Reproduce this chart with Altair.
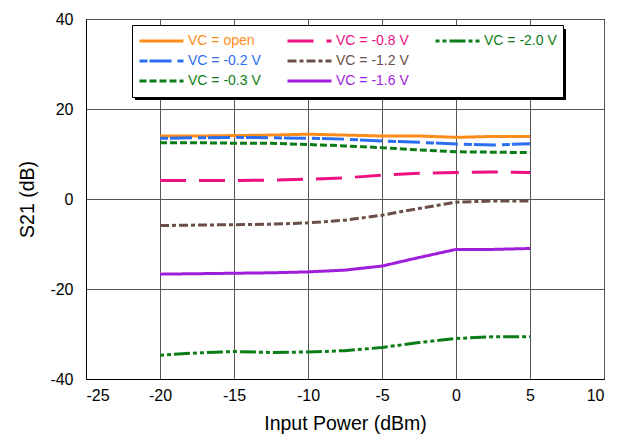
import altair as alt
import pandas as pd

# Input power points (dBm)
pin = [-20, -17.5, -15, -12.5, -10, -7.5, -5, -2.5, 0, 2.5, 5]

s21_open = [14.0, 14.0, 14.1, 14.2, 14.4, 14.2, 14.0, 14.0, 13.7, 13.9, 13.9]
s21_m02 = [13.5, 13.6, 13.7, 13.6, 13.5, 13.3, 12.9, 12.6, 12.2, 12.0, 12.3]
s21_m03 = [12.5, 12.5, 12.4, 12.4, 12.1, 11.8, 11.4, 10.9, 10.5, 10.4, 10.3]
s21_m08 = [4.1, 4.1, 4.1, 4.2, 4.4, 4.7, 5.3, 5.7, 5.9, 6.0, 5.9]
s21_m12 = [-5.9, -5.8, -5.7, -5.6, -5.3, -4.7, -3.6, -2.1, -0.7, -0.45, -0.45]
s21_m16 = [-16.7, -16.6, -16.5, -16.4, -16.2, -15.8, -14.9, -13.0, -11.2, -11.2, -11.0]
s21_m20 = [-34.7, -34.2, -33.9, -34.1, -34.0, -33.7, -33.0, -31.9, -31.0, -30.6, -30.6]

series_names = ["VC = open", "VC = -0.2 V", "VC = -0.3 V", "VC = -0.8 V",
                "VC = -1.2 V", "VC = -1.6 V", "VC = -2.0 V"]
series_values = [s21_open, s21_m02, s21_m03, s21_m08, s21_m12, s21_m16, s21_m20]
series_colors = ["#ff8c1a", "#2b6ff0", "#0b7d17", "#ee1182",
                 "#6b4e47", "#9f1edb", "#0b7d17"]
series_dashes = [[1, 0], [8, 2, 22, 6], [7, 3], [26, 13],
                 [9, 3, 4, 3], [1, 0], [4, 3, 4, 3, 16, 3]]

# legend: 3 columns filled column-wise, last slot left empty
legend_domain = series_names + [" "]
legend_colors = series_colors + ["transparent"]
legend_dashes = series_dashes + [[1, 0]]

x_ticks = [-25, -20, -15, -10, -5, 0, 5, 10]
y_ticks = [-40, -20, 0, 20, 40]

rows = []
for name, vals in zip(series_names, series_values):
    for order, (xv, yv) in enumerate(zip(pin, vals)):
        rows.append({"series": name, "pin": xv, "s21": yv, "o": order})
df = pd.DataFrame(rows)

FONT = "Liberation Sans"


def make_legend():
    return alt.Legend(
        title=None, orient="none", legendX=46, legendY=6,
        columns=3, columnPadding=25, rowPadding=0,
        symbolType="stroke", symbolSize=1936, symbolStrokeWidth=3,
        clipHeight=20, labelOffset=3, padding=6,
        labelFont=FONT, labelFontSize=14,
        labelColor=alt.ExprRef(expr="scale('color', datum.value)"),
        fillColor="white", strokeColor="black")


shadow = alt.Chart(alt.Data(values=[{}])).mark_rect(color="black").encode(
    x=alt.value(49), x2=alt.value(480), y=alt.value(10), y2=alt.value(81)
)

lines = alt.Chart(df).mark_line(strokeWidth=3, clip=True).encode(
    x=alt.X("pin:Q", scale=alt.Scale(domain=[-25, 10], nice=False),
            axis=alt.Axis(values=x_ticks, title="Input Power (dBm)",
                          labelExpr="'' + datum.value")),
    y=alt.Y("s21:Q", scale=alt.Scale(domain=[-40, 40], nice=False),
            axis=alt.Axis(values=y_ticks, title="S21 (dB)",
                          labelExpr="'' + datum.value")),
    order="o:Q",
    color=alt.Color("series:N", scale=alt.Scale(domain=legend_domain, range=legend_colors),
                    legend=make_legend()),
    strokeDash=alt.StrokeDash("series:N", scale=alt.Scale(domain=legend_domain, range=legend_dashes),
                              legend=make_legend()),
)

chart = alt.layer(shadow, lines).properties(
    width=518, height=360,
    padding={"left": 9, "top": 3, "right": 5, "bottom": 5},
).configure_view(
    stroke="black", strokeWidth=1
).configure_axis(
    labelFont=FONT, labelFontSize=16, labelColor="black",
    titleFont=FONT, titleFontSize=19.5, titleFontWeight="normal", titleColor="black",
    grid=True, gridColor="#555555", gridWidth=1,
    domainColor="black", ticks=False,
).configure_axisX(
    labelPadding=8, titlePadding=11,
).configure_axisY(
    labelPadding=13, titlePadding=12,
)

chart.save("out.html", embed_options={"renderer": "svg", "actions": False})
